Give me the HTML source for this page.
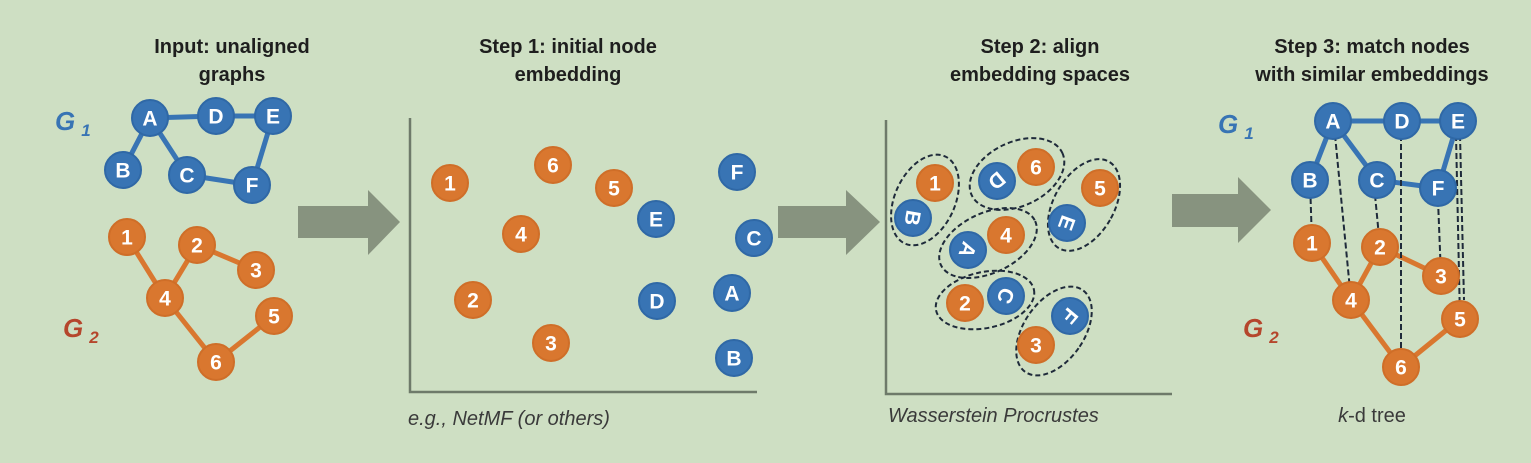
<!DOCTYPE html>
<html><head><meta charset="utf-8"><style>
html,body{margin:0;padding:0;background:#cedfc3}
svg{display:block}
.t{font-family:"Liberation Sans",sans-serif;font-weight:bold;font-size:20px;fill:#1e1e1e;text-anchor:middle}
.n text{font-family:"Liberation Sans",sans-serif;font-weight:bold;font-size:21px;fill:#fff;text-anchor:middle;dominant-baseline:central}
.b circle{fill:#3874b4;stroke:#2f68a6;stroke-width:2}
.o circle{fill:#d9772f;stroke:#cf6e28;stroke-width:2}
.eb{stroke:#3874b4;stroke-width:5}
.eo{stroke:#d9772f;stroke-width:5}
.cap{font-family:"Liberation Sans",sans-serif;font-size:20px;fill:#3a3a3a}
.g{font-family:"Liberation Sans",sans-serif;font-weight:bold;font-style:italic;font-size:26px}
.dash{stroke:#1e2a3a;stroke-width:2;stroke-dasharray:5,3;fill:none}
.ax{stroke:#6e7a6a;stroke-width:2.5;fill:none}
</style></head><body>
<svg width="1531" height="463" viewBox="0 0 1531 463" xmlns="http://www.w3.org/2000/svg">
<rect width="1531" height="463" fill="#cedfc3"/>
<!-- titles -->
<text class="t" x="232" y="53">Input: unaligned</text>
<text class="t" x="232" y="81">graphs</text>
<text class="t" x="568" y="53">Step 1: initial node</text>
<text class="t" x="568" y="81">embedding</text>
<text class="t" x="1040" y="53">Step 2: align</text>
<text class="t" x="1040" y="81">embedding spaces</text>
<text class="t" x="1372" y="53">Step 3: match nodes</text>
<text class="t" x="1372" y="81">with similar embeddings</text>

<!-- arrows -->
<g fill="#87937f">
<polygon points="298,206 368,206 368,190 400,222 368,255 368,238 298,238"/>
<polygon points="778,206 846,206 846,190 880,222 846,255 846,238 778,238"/>
<polygon points="1172,194 1238,194 1238,177 1271,210 1238,243 1238,227 1172,227"/>
</g>

<!-- Panel 1 -->
<text class="g" x="55" y="130" fill="#3874b4">G<tspan font-size="17" dx="6" dy="6">1</tspan></text>
<text class="g" x="63" y="337" fill="#b5462c">G<tspan font-size="17" dx="6" dy="6">2</tspan></text>
<g>
<line class="eb" x1="150" y1="118" x2="216" y2="116"/><line class="eb" x1="216" y1="116" x2="273" y2="116"/>
<line class="eb" x1="150" y1="118" x2="123" y2="170"/><line class="eb" x1="150" y1="118" x2="187" y2="175"/>
<line class="eb" x1="187" y1="175" x2="252" y2="185"/><line class="eb" x1="273" y1="116" x2="252" y2="185"/>
<line class="eo" x1="127" y1="237" x2="165" y2="298"/><line class="eo" x1="197" y1="245" x2="165" y2="298"/>
<line class="eo" x1="197" y1="245" x2="256" y2="270"/><line class="eo" x1="165" y1="298" x2="216" y2="362"/>
<line class="eo" x1="216" y1="362" x2="274" y2="316"/>
</g>
<g class="n b">
<g><circle cx="150" cy="118" r="18"/><text x="150" y="119">A</text></g>
<g><circle cx="216" cy="116" r="18"/><text x="216" y="117">D</text></g>
<g><circle cx="273" cy="116" r="18"/><text x="273" y="117">E</text></g>
<g><circle cx="123" cy="170" r="18"/><text x="123" y="171">B</text></g>
<g><circle cx="187" cy="175" r="18"/><text x="187" y="176">C</text></g>
<g><circle cx="252" cy="185" r="18"/><text x="252" y="186">F</text></g>
</g>
<g class="n o">
<g><circle cx="127" cy="237" r="18"/><text x="127" y="238">1</text></g>
<g><circle cx="197" cy="245" r="18"/><text x="197" y="246">2</text></g>
<g><circle cx="256" cy="270" r="18"/><text x="256" y="271">3</text></g>
<g><circle cx="165" cy="298" r="18"/><text x="165" y="299">4</text></g>
<g><circle cx="274" cy="316" r="18"/><text x="274" y="317">5</text></g>
<g><circle cx="216" cy="362" r="18"/><text x="216" y="363">6</text></g>
</g>

<!-- Panel 2 -->
<polyline class="ax" points="410,118 410,392 757,392"/>
<g class="n o">
<g><circle cx="450" cy="183" r="18"/><text x="450" y="184">1</text></g>
<g><circle cx="553" cy="165" r="18"/><text x="553" y="166">6</text></g>
<g><circle cx="614" cy="188" r="18"/><text x="614" y="189">5</text></g>
<g><circle cx="521" cy="234" r="18"/><text x="521" y="235">4</text></g>
<g><circle cx="473" cy="300" r="18"/><text x="473" y="301">2</text></g>
<g><circle cx="551" cy="343" r="18"/><text x="551" y="344">3</text></g>
</g>
<g class="n b">
<g><circle cx="656" cy="219" r="18"/><text x="656" y="220">E</text></g>
<g><circle cx="737" cy="172" r="18"/><text x="737" y="173">F</text></g>
<g><circle cx="754" cy="238" r="18"/><text x="754" y="239">C</text></g>
<g><circle cx="657" cy="301" r="18"/><text x="657" y="302">D</text></g>
<g><circle cx="732" cy="293" r="18"/><text x="732" y="294">A</text></g>
<g><circle cx="734" cy="358" r="18"/><text x="734" y="359">B</text></g>
</g>
<text class="cap" x="408" y="425" font-style="italic">e.g., NetMF (or others)</text>

<!-- Panel 3 -->
<polyline class="ax" points="886,120 886,394 1172,394"/>
<ellipse class="dash" cx="925" cy="200" rx="30" ry="48" transform="rotate(25 925 200)"/>
<ellipse class="dash" cx="1017" cy="174" rx="50" ry="32" transform="rotate(-25 1017 174)"/>
<ellipse class="dash" cx="1084" cy="205" rx="30" ry="50" transform="rotate(30 1084 205)"/>
<ellipse class="dash" cx="988" cy="243" rx="52" ry="30" transform="rotate(-25 988 243)"/>
<ellipse class="dash" cx="985" cy="300" rx="50" ry="28" transform="rotate(-12 985 300)"/>
<ellipse class="dash" cx="1054" cy="331" rx="30" ry="50" transform="rotate(35 1054 331)"/>
<g class="n o">
<g><circle cx="935" cy="183" r="18"/><text x="935" y="184">1</text></g>
<g><circle cx="1036" cy="167" r="18"/><text x="1036" y="168">6</text></g>
<g><circle cx="1100" cy="188" r="18"/><text x="1100" y="189">5</text></g>
<g><circle cx="1006" cy="235" r="18"/><text x="1006" y="236">4</text></g>
<g><circle cx="965" cy="303" r="18"/><text x="965" y="304">2</text></g>
<g><circle cx="1036" cy="345" r="18"/><text x="1036" y="346">3</text></g>
</g>
<g class="n b">
<g><circle cx="913" cy="218" r="18"/><text x="913" y="219" transform="rotate(100 913 218)">B</text></g>
<g><circle cx="997" cy="181" r="18"/><text x="997" y="182" transform="rotate(140 997 181)">D</text></g>
<g><circle cx="1067" cy="223" r="18"/><text x="1067" y="224" transform="rotate(110 1067 223)">E</text></g>
<g><circle cx="968" cy="250" r="18"/><text x="968" y="251" transform="rotate(110 968 250)">A</text></g>
<g><circle cx="1006" cy="296" r="18"/><text x="1006" y="297" transform="rotate(110 1006 296)">C</text></g>
<g><circle cx="1070" cy="316" r="18"/><text x="1070" y="317" transform="rotate(130 1070 316)">F</text></g>
</g>
<text class="cap" x="888" y="422" font-style="italic">Wasserstein Procrustes</text>

<!-- Panel 4 -->
<text class="g" x="1218" y="133" fill="#3874b4">G<tspan font-size="17" dx="6" dy="6">1</tspan></text>
<text class="g" x="1243" y="337" fill="#b5462c">G<tspan font-size="17" dx="6" dy="6">2</tspan></text>
<g>
<line class="eb" x1="1333" y1="121" x2="1402" y2="121"/><line class="eb" x1="1402" y1="121" x2="1458" y2="121"/>
<line class="eb" x1="1333" y1="121" x2="1310" y2="180"/><line class="eb" x1="1333" y1="121" x2="1377" y2="180"/>
<line class="eb" x1="1377" y1="180" x2="1438" y2="188"/><line class="eb" x1="1458" y1="121" x2="1438" y2="188"/>
<line class="eo" x1="1312" y1="243" x2="1351" y2="300"/><line class="eo" x1="1380" y1="247" x2="1351" y2="300"/>
<line class="eo" x1="1380" y1="247" x2="1441" y2="276"/><line class="eo" x1="1351" y1="300" x2="1401" y2="367"/>
<line class="eo" x1="1401" y1="367" x2="1460" y2="319"/>
</g>
<g class="dash" style="stroke-dasharray:6,3">
<line x1="1310" y1="180" x2="1312" y2="243"/>
<line x1="1335" y1="135" x2="1351" y2="300"/>
<line x1="1375" y1="195" x2="1380" y2="247"/>
<line x1="1401" y1="135" x2="1401" y2="367"/>
<line x1="1438" y1="200" x2="1441" y2="276"/>
<line x1="1456" y1="135" x2="1460" y2="319"/>
<line x1="1460" y1="135" x2="1464" y2="300"/>
</g>
<g class="n b">
<g><circle cx="1333" cy="121" r="18"/><text x="1333" y="122">A</text></g>
<g><circle cx="1402" cy="121" r="18"/><text x="1402" y="122">D</text></g>
<g><circle cx="1458" cy="121" r="18"/><text x="1458" y="122">E</text></g>
<g><circle cx="1310" cy="180" r="18"/><text x="1310" y="181">B</text></g>
<g><circle cx="1377" cy="180" r="18"/><text x="1377" y="181">C</text></g>
<g><circle cx="1438" cy="188" r="18"/><text x="1438" y="189">F</text></g>
</g>
<g class="n o">
<g><circle cx="1312" cy="243" r="18"/><text x="1312" y="244">1</text></g>
<g><circle cx="1380" cy="247" r="18"/><text x="1380" y="248">2</text></g>
<g><circle cx="1441" cy="276" r="18"/><text x="1441" y="277">3</text></g>
<g><circle cx="1351" cy="300" r="18"/><text x="1351" y="301">4</text></g>
<g><circle cx="1460" cy="319" r="18"/><text x="1460" y="320">5</text></g>
<g><circle cx="1401" cy="367" r="18"/><text x="1401" y="368">6</text></g>
</g>
<text class="cap" x="1372" y="422" text-anchor="middle"><tspan font-style="italic">k</tspan>-d tree</text>
</svg>
</body></html>
